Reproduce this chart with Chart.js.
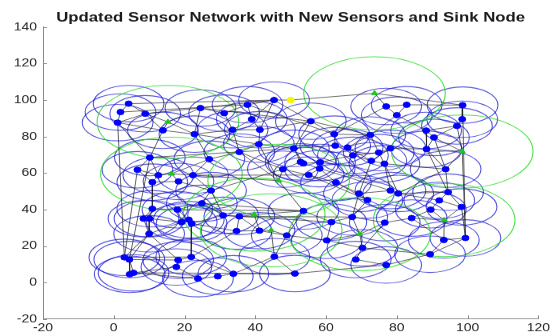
<!DOCTYPE html>
<html>
<head>
<meta charset="utf-8">
<script src="https://cdn.jsdelivr.net/npm/chart.js@4.4.0/dist/chart.umd.min.js"></script>
<style>
html, body { margin: 0; padding: 0; background: #fff; overflow: hidden; }
#wrap { width: 553px; height: 336px; overflow: hidden; }
#c { transform: scaleY(0.8); transform-origin: 0 0; }
</style>
</head>
<body>
<div id="wrap"><canvas id="c" width="553" height="420"></canvas></div>
<script>
// sensor positions (blue)
const sensorX = [4.2,1.9,8.9,1.1,13.9,24.5,31.2,22.8,37.8,39,33.6,41.3,45.3,55.7,62.3,77,82.8,80,98.6,98.5,97,88.3,90.5,72.5,
  10.2,27,6.7,12.6,22.4,41,35.5,50.9,52.8,53.6,58.3,58.2,47.8,55.1,62.6,66.1,67.6,74.9,78.2,88.4,72.8,76.5,93.8,
  10.9,18.3,27.5,24.9,10.9,18,62.8,69.3,71.7,78.2,80.4,94.5,92,98.3,
  8.4,10.1,19.2,21.2,22,30.9,35.5,10,34.7,41.2,48.9,53.6,61.5,67.4,76.6,84.2,60.2,93.3,99.4,89.6,
  3,4.4,21.9,18.2,17.7,4.5,5.6,23.8,29.4,33.8,45.4,51.2,70.3,89.4,68.4,77];
const sensorY = [98,93.4,92.5,87.6,83.4,95.6,92.8,81.3,97.4,89.5,83.7,83.7,100,88.4,81.3,96.5,97.4,91.7,97.2,89.5,85.8,83.3,79.5,80.8,
  68.5,67.6,61.8,58.8,58.8,75.8,71.5,73.5,66.1,65.3,65.8,62.4,62.1,58.9,75,74,69.7,71.2,73.5,73.1,66.7,65.1,62.1,
  55,55.4,50.4,43.4,40.4,39.9,54.8,48.8,45.2,50.4,48.8,49.5,45,41.4,
  35,35,33.1,34.4,32.3,36.8,36.2,26.7,28.2,28.4,25.8,39.2,33.1,35.9,32.8,35.3,23.1,23.3,24.4,39.9,
  13.8,12.6,14,12.3,8.5,4.5,5.3,2.1,3.4,4.8,14.2,4.9,19,15.5,12.6,9.6];

// new sensors (green)
const newX = [15.3,16.3,46.6,39.7,44.5,69.5,93.4,98.5,73.7];
const newY = [88,59.6,55.8,37.2,28.6,26.5,34.2,71.8,103.7];

// sink node
const sinkX = [50];
const sinkY = [100];

const sensorRange = 10;
const newRange = 20;

const xTicks = [-20, 0, 20, 40, 60, 80, 100, 120];
const yTicks = [-20, 0, 20, 40, 60, 80, 100, 120, 140];

const chartTitle = 'Updated Sensor Network with New Sensors and Sink Node';

// links: index < 100 sensor, 100+i new sensor, 200 sink
const links = [
  [0,1],[0,2],[1,3],[2,3],[2,4],[3,4],[4,100],[2,100],[100,7],[4,7],[5,6],[5,7],[6,10],[6,8],[8,9],[9,10],[9,11],[10,11],
  [11,12],[9,12],[8,12],[7,10],[5,100],[3,24],[4,24],[7,25],[10,30],[11,29],[29,30],[29,31],[11,13],[13,14],[12,13],[13,23],
  [14,23],[14,38],[13,31],[31,38],[38,39],[39,40],[23,41],[23,39],[15,17],[16,17],[15,16],[17,23],[16,18],[17,21],[21,22],
  [19,20],[18,19],[20,21],[22,43],[21,43],[43,107],[22,107],[41,42],[42,43],[40,44],[44,45],[41,45],[45,46],[46,107],[43,46],
  [20,22],[14,15],
  [3,81],[26,81],[24,82],[18,79],[20,107],[107,79],[0,12],[2,12],[12,200],[200,108],[108,18],[108,15],[1,8],[5,13],
  [24,26],[24,27],[26,27],[27,101],[101,28],[101,48],[27,47],[47,48],[48,49],[28,49],[25,28],[25,30],[25,101],[49,50],[50,52],
  [51,52],[47,51],[26,47],[51,61],[51,62],[61,62],[62,63],[52,63],[52,64],[63,64],[64,65],[65,66],[50,66],[66,67],[67,103],
  [49,66],[61,68],[62,68],[68,81],[68,82],[63,68],[65,69],[69,70],[70,104],[104,71],[67,69],[67,70],[103,72],[103,70],[72,73],
  [72,102],[102,36],[36,37],[37,53],[36,32],[32,33],[33,34],[34,35],[35,37],[32,31],[30,36],[31,33],[34,40],[35,53],[53,54],
  [54,55],[54,56],[56,57],[55,74],[74,73],[73,77],[74,75],[75,76],[76,80],[80,59],[59,58],[58,60],[60,106],[106,80],[106,78],
  [78,79],[76,106],[57,58],[56,45],[57,46],[44,54],[45,57],[71,77],[77,105],[105,93],[105,74],[105,75],[93,95],[95,96],[93,94],
  [94,78],[71,91],[91,92],[77,93],[91,104],[60,79],[46,58],[59,57],[75,93],
  [81,82],[82,86],[82,87],[86,87],[81,83],[82,84],[83,84],[84,85],[85,87],[85,88],[88,89],[89,90],[90,91],[83,90],[83,69],
  [84,68],[87,88],[90,92],[87,92],[92,96],[96,94],[94,79],[65,83],
  [24,31],[28,37],[50,72],[66,73],[52,72],[67,74],[29,102],[30,102],[33,56],[37,55],[8,14],[49,36],[28,102],[7,29],[39,44],
  [53,55],[40,41],[54,74],[42,44],[22,46],[43,58],[59,60],[76,78],[70,71],[71,72]
];

function nodeAt(id) {
  if (id === 200) return { x: sinkX[0], y: sinkY[0] };
  if (id >= 100) return { x: newX[id - 100], y: newY[id - 100] };
  return { x: sensorX[id], y: sensorY[id] };
}

const linkPoints = [];
links.forEach(l => {
  const a = nodeAt(l[0]);
  const b = nodeAt(l[1]);
  linkPoints.push(a, b, { x: b.x, y: null });
});

const sensorPoints = sensorX.map((x, i) => ({ x: x, y: sensorY[i] }));
const newPoints = newX.map((x, i) => ({ x: x, y: newY[i] }));
const sinkPoints = sinkX.map((x, i) => ({ x: x, y: sinkY[i] }));

// range circles drawn in data units
const rangePlugin = {
  id: 'ranges',
  beforeDatasetsDraw(chart) {
    const { ctx, chartArea, scales: { x, y } } = chart;
    ctx.save();
    ctx.beginPath();
    ctx.rect(chartArea.left, chartArea.top, chartArea.right - chartArea.left, chartArea.bottom - chartArea.top);
    ctx.clip();
    function ring(cx, cy, r, color) {
      const px = x.getPixelForValue(cx);
      const py = y.getPixelForValue(cy);
      const rx = Math.abs(x.getPixelForValue(cx + r) - px);
      const ry = Math.abs(y.getPixelForValue(cy + r) - py);
      ctx.beginPath();
      ctx.ellipse(px, py, rx, ry, 0, 0, Math.PI * 2);
      ctx.strokeStyle = color;
      ctx.stroke();
    }
    ctx.lineWidth = 1.1;
    sensorX.forEach((v, i) => ring(v, sensorY[i], sensorRange, 'rgba(20, 20, 210, 0.72)'));
    newX.forEach((v, i) => ring(v, newY[i], newRange, 'rgba(40, 220, 40, 0.85)'));
    ctx.restore();
  }
};

// inward tick marks and centred title like the original figure
const framePlugin = {
  id: 'frame',
  afterDraw(chart) {
    const { ctx, chartArea, scales: { x, y } } = chart;
    ctx.save();
    ctx.strokeStyle = '#8a8a8a';
    ctx.lineWidth = 1;
    ctx.beginPath();
    xTicks.forEach(v => {
      const px = Math.round(x.getPixelForValue(v)) + 0.5;
      ctx.moveTo(px, chartArea.bottom);
      ctx.lineTo(px, chartArea.bottom - 4.5);
    });
    yTicks.forEach(v => {
      const py = Math.round(y.getPixelForValue(v)) + 0.5;
      ctx.moveTo(chartArea.left, py);
      ctx.lineTo(chartArea.left + 4, py);
    });
    ctx.stroke();
    ctx.fillStyle = '#1a1a1a';
    ctx.font = 'bold 16.8px "Liberation Sans"';
    ctx.textAlign = 'center';
    ctx.textBaseline = 'middle';
    ctx.fillText(chartTitle, (chartArea.left + chartArea.right) / 2, 22.5);
    ctx.restore();
  }
};

const tickFont = { family: 'Liberation Sans', size: 14 };

new Chart(document.getElementById('c'), {
  type: 'scatter',
  data: {
    datasets: [
      {
        label: 'Links',
        data: linkPoints,
        showLine: true,
        spanGaps: false,
        borderColor: 'rgba(25, 25, 25, 0.68)',
        borderWidth: 1,
        pointRadius: 0,
        order: 3
      },
      {
        label: 'Sensors',
        data: sensorPoints,
        backgroundColor: '#0000ff',
        borderColor: '#0000ff',
        pointRadius: 3.5,
        order: 2
      },
      {
        label: 'New Sensors',
        data: newPoints,
        pointStyle: 'triangle',
        backgroundColor: '#1ec81e',
        borderColor: '#1ec81e',
        pointRadius: 3.6,
        order: 1
      },
      {
        label: 'Sink',
        data: sinkPoints,
        backgroundColor: '#f5f500',
        borderColor: '#f5f500',
        pointRadius: 3.6,
        order: 0
      }
    ]
  },
  options: {
    responsive: false,
    animation: false,
    layout: { padding: { left: 0, right: 0, top: 33.8, bottom: 0 } },
    plugins: {
      legend: { display: false },
      tooltip: { enabled: false },
      title: { display: false }
    },
    scales: {
      x: {
        type: 'linear',
        min: -20,
        max: 120,
        afterBuildTicks(scale) { scale.ticks = xTicks.map(v => ({ value: v })); },
        afterFit(scale) { scale.height = 21.25; },
        grid: { display: false, drawTicks: false },
        border: { display: true, color: '#8a8a8a', width: 1 },
        ticks: { font: tickFont, color: '#262626', padding: 3, maxRotation: 0 }
      },
      y: {
        type: 'linear',
        min: -20,
        max: 140,
        afterBuildTicks(scale) { scale.ticks = yTicks.map(v => ({ value: v })); },
        afterFit(scale) { scale.width = 43; },
        grid: { display: false, drawTicks: false },
        border: { display: true, color: '#8a8a8a', width: 1 },
        ticks: { font: tickFont, color: '#262626', padding: 6 }
      }
    }
  },
  plugins: [rangePlugin, framePlugin]
});
</script>
</body>
</html>
